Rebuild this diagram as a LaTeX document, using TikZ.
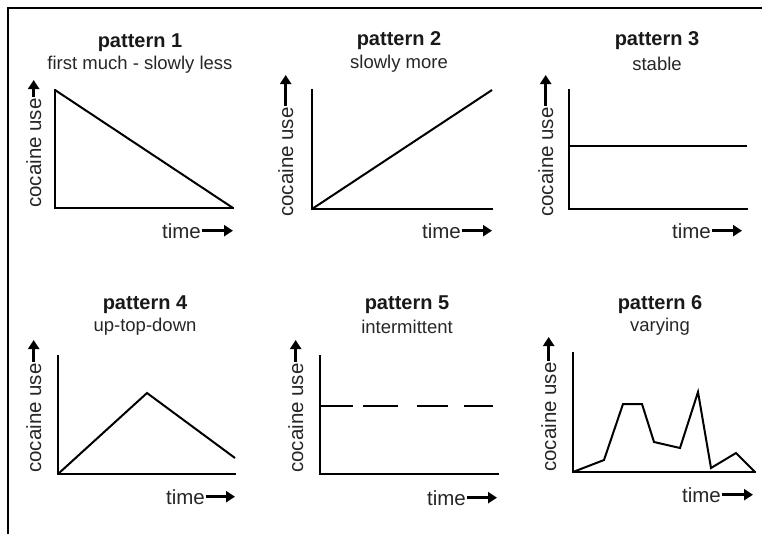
\documentclass[tikz,border=0pt]{standalone}
\usepackage{fontspec}
\setmainfont{Liberation Sans}
\usetikzlibrary{arrows.meta}
\begin{document}
\begin{tikzpicture}[x=1pt,y=-1pt,
  frame/.style={line width=2.5pt},
  axis/.style={line width=2.6pt, line cap=rect},
  curve/.style={line width=2pt, line join=miter},
  ttl/.style={font=\bfseries\fontsize{20}{20}\selectfont, inner sep=0pt, text=black!90},
  sub/.style={font=\fontsize{18.5}{19}\selectfont, inner sep=0pt, text=black!85},
  ylab/.style={font=\fontsize{20.5}{21}\selectfont, rotate=90, anchor=base west, inner sep=0pt, text=black!85},
  xlab/.style={font=\fontsize{20.5}{21}\selectfont, anchor=base east, inner sep=0pt, text=black!85},
  arr/.style={-{Triangle[length=9pt,width=11pt]}, line width=2.6pt, shorten <=1pt}]
\useasboundingbox (0,0) rectangle (762,533);
% frame
\coordinate (fa) at (8,540);
\coordinate (fb) at (8,8);
\coordinate (fc) at (770,8);
\draw[frame] (fa) -- (fb) -- (fc);

% ---------- pattern 1
\node[ttl] (t1) at (140,43) {pattern 1};
\node[sub] (s1) at (140,65) {first much - slowly less};
\coordinate (o1) at (55,208);
\coordinate (y1) at (55,90);
\coordinate (x1) at (233,208);
\draw[axis] (y1) -- (o1) -- (x1);
\draw[curve] (y1) -- (x1);
\node[ylab] (yl1) at (41,208) {cocaine use};
\coordinate (ya1) at (33,80);
\draw[arr] (yl1.east) -- (yl1.east |- ya1);
\node[xlab] (tl1) at (201,238) {time};
\coordinate (xa1) at (233,232);
\draw[arr] (tl1.east) -- (tl1.east -| xa1);

% ---------- pattern 2
\node[ttl] (t2) at (399,41) {pattern 2};
\node[sub] (s2) at (399,64) {slowly more};
\coordinate (o2) at (312,209);
\coordinate (y2) at (312,90);
\coordinate (x2) at (492,209);
\coordinate (e2) at (492,90);
\draw[axis] (y2) -- (o2) -- (x2);
\draw[curve] (o2) -- (e2);
\node[ylab] (yl2) at (293,217) {cocaine use};
\coordinate (ya2) at (285,75);
\draw[arr] (yl2.east) -- (yl2.east |- ya2);
\node[xlab] (tl2) at (461,238) {time};
\coordinate (xa2) at (492,232);
\draw[arr] (tl2.east) -- (tl2.east -| xa2);

% ---------- pattern 3
\node[ttl] (t3) at (657,41) {pattern 3};
\node[sub] (s3) at (657,64) {stable};
\coordinate (o3) at (569,209);
\coordinate (y3) at (569,90);
\coordinate (x3) at (747,209);
\coordinate (m3a) at (569,146);
\coordinate (m3b) at (747,146);
\draw[axis] (y3) -- (o3) -- (x3);
\draw[curve] (m3a) -- (m3b);
\node[ylab] (yl3) at (553,217) {cocaine use};
\coordinate (ya3) at (545,75);
\draw[arr] (yl3.east) -- (yl3.east |- ya3);
\node[xlab] (tl3) at (711,238) {time};
\coordinate (xa3) at (742,232);
\draw[arr] (tl3.east) -- (tl3.east -| xa3);

% ---------- pattern 4
\node[ttl] (t4) at (145,305) {pattern 4};
\node[sub] (s4) at (145,327) {up-top-down};
\coordinate (o4) at (58,474);
\coordinate (y4) at (58,356);
\coordinate (x4) at (235,474);
\coordinate (p4) at (147,393);
\coordinate (e4) at (235,458);
\draw[axis] (y4) -- (o4) -- (x4);
\draw[curve] (o4) -- (p4) -- (e4);
\node[ylab] (yl4) at (41,473) {cocaine use};
\coordinate (ya4) at (33,340);
\draw[arr] (yl4.east) -- (yl4.east |- ya4);
\node[xlab] (tl4) at (205,504) {time};
\coordinate (xa4) at (235,498);
\draw[arr] (tl4.east) -- (tl4.east -| xa4);

% ---------- pattern 5
\node[ttl] (t5) at (407,305) {pattern 5};
\node[sub] (s5) at (407,327) {intermittent};
\coordinate (o5) at (320,474);
\coordinate (y5) at (320,356);
\coordinate (x5) at (498,474);
\draw[axis] (y5) -- (o5) -- (x5);
\coordinate (d1a) at (320,406); \coordinate (d1b) at (353,406);
\coordinate (d2a) at (363,406); \coordinate (d2b) at (398,406);
\coordinate (d3a) at (417,406); \coordinate (d3b) at (448,406);
\coordinate (d4a) at (464,406); \coordinate (d4b) at (493,406);
\draw[curve] (d1a) -- (d1b) (d2a) -- (d2b) (d3a) -- (d3b) (d4a) -- (d4b);
\node[ylab] (yl5) at (303,473) {cocaine use};
\coordinate (ya5) at (295,340);
\draw[arr] (yl5.east) -- (yl5.east |- ya5);
\node[xlab] (tl5) at (466,505) {time};
\coordinate (xa5) at (497,499);
\draw[arr] (tl5.east) -- (tl5.east -| xa5);

% ---------- pattern 6
\node[ttl] (t6) at (660,305) {pattern 6};
\node[sub] (s6) at (660,327) {varying};
\coordinate (o6) at (573,472);
\coordinate (y6) at (573,353);
\coordinate (x6) at (755,472);
\draw[axis] (y6) -- (o6) -- (x6);
\draw[curve] (o6) -- (604,460) -- (623,404) -- (642,404) -- (654,442) -- (680,448)
  -- (698,392) -- (711,468) -- (736,453) -- (x6);
\node[ylab] (yl6) at (556,472) {cocaine use};
\coordinate (ya6) at (548,337);
\draw[arr] (yl6.east) -- (yl6.east |- ya6);
\node[xlab] (tl6) at (721,502) {time};
\coordinate (xa6) at (753,496);
\draw[arr] (tl6.east) -- (tl6.east -| xa6);
\end{tikzpicture}
\end{document}
